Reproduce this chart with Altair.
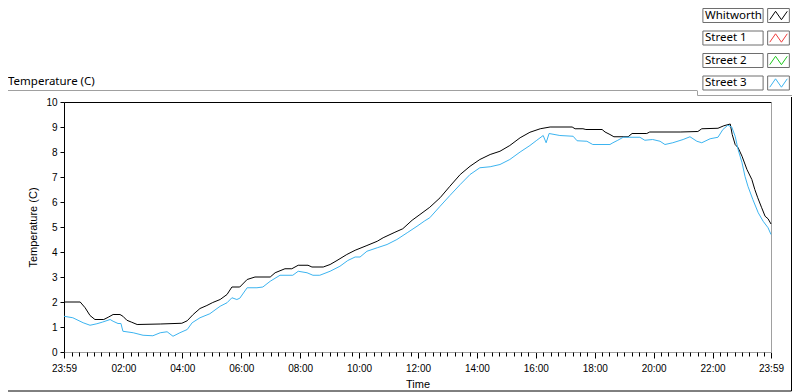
import json
import altair as alt
import pandas as pd

# ---------------- data ----------------
series_names = ["Whitworth", "Street 1", "Street 2", "Street 3"]
series_colors = ["#000000", "#f03c3c", "#1ec81e", "#3cb4f0"]
box_keys = ["box Whitworth", "box Street 1", "box Street 2", "box Street 3"]

# minutes after midnight (-1 = 23:59 of the previous day)
whitworth_min = [-1, 32, 42, 52, 62, 80, 89, 99, 113, 119, 127, 137, 148, 195, 239, 250, 262, 276, 290, 302,
                 317, 331, 341, 357, 372, 388, 419, 429, 449, 463, 476, 496, 504, 527, 541, 555, 575, 592, 616, 637,
                 649, 673, 689, 708, 724, 744, 765, 785, 806, 826, 846, 867, 887, 907, 928, 948, 969, 989, 1034, 1040,
                 1056, 1062, 1095, 1101, 1111, 1119, 1148, 1156, 1186, 1192, 1254, 1290, 1298, 1331, 1343, 1356, 1360, 1366, 1372, 1380,
                 1390, 1400, 1406, 1412, 1420, 1427, 1433, 1439]
whitworth_temp = [2.0, 2.0, 1.77, 1.46, 1.3, 1.3, 1.39, 1.5, 1.5, 1.43, 1.27, 1.19, 1.1, 1.12, 1.15, 1.25, 1.5, 1.74, 1.86, 1.98,
                  2.1, 2.3, 2.6, 2.6, 2.9, 3.0, 3.0, 3.17, 3.33, 3.33, 3.47, 3.47, 3.4, 3.4, 3.5, 3.66, 3.9, 4.07, 4.26, 4.43,
                  4.57, 4.79, 4.93, 5.27, 5.5, 5.79, 6.17, 6.63, 7.1, 7.43, 7.7, 7.9, 8.03, 8.26, 8.57, 8.79, 8.93, 9.0, 9.0, 8.93,
                  8.93, 8.9, 8.9, 8.8, 8.7, 8.61, 8.61, 8.74, 8.74, 8.8, 8.8, 8.82, 8.93, 8.95, 9.05, 9.12, 8.7, 8.3, 8.17, 7.83,
                  7.3, 6.9, 6.5, 6.17, 5.77, 5.43, 5.33, 5.12]

street3_min = [-1, 17, 38, 52, 66, 78, 93, 99, 109, 115, 119, 140, 160, 180, 195, 209, 221, 235, 250, 260,
               276, 296, 317, 331, 341, 351, 357, 372, 392, 404, 419, 439, 465, 476, 494, 506, 520, 541, 561, 577,
               592, 602, 616, 637, 657, 677, 698, 718, 734, 744, 765, 785, 806, 826, 846, 867, 887, 907, 928, 948,
               962, 975, 981, 987, 1009, 1036, 1044, 1064, 1076, 1111, 1117, 1127, 1138, 1172, 1182, 1198, 1213, 1223, 1239, 1260,
               1274, 1288, 1298, 1315, 1331, 1341, 1351, 1359, 1366, 1372, 1380, 1386, 1392, 1402, 1413, 1423, 1433, 1439]
street3_temp = [1.43, 1.37, 1.17, 1.07, 1.13, 1.2, 1.3, 1.23, 1.14, 1.14, 0.83, 0.77, 0.67, 0.65, 0.77, 0.81, 0.63, 0.77, 0.9, 1.17,
                1.37, 1.53, 1.83, 1.97, 2.17, 2.1, 2.15, 2.57, 2.57, 2.6, 2.83, 3.07, 3.07, 3.23, 3.17, 3.07, 3.07, 3.23, 3.43, 3.66,
                3.8, 3.8, 4.03, 4.17, 4.3, 4.5, 4.77, 5.03, 5.25, 5.37, 5.83, 6.26, 6.7, 7.1, 7.37, 7.41, 7.5, 7.7, 8.0, 8.26,
                8.47, 8.66, 8.37, 8.74, 8.66, 8.63, 8.45, 8.43, 8.3, 8.3, 8.37, 8.47, 8.59, 8.59, 8.47, 8.5, 8.43, 8.3, 8.37, 8.5,
                8.61, 8.43, 8.37, 8.53, 8.59, 8.9, 9.07, 9.0, 8.63, 8.1, 7.57, 7.03, 6.63, 6.1, 5.57, 5.23, 4.97, 4.7]

major_tick_values = [-1, 120, 240, 360, 480, 600, 720, 840, 960, 1080, 1200, 1320, 1439]
major_tick_labels = ["23:59", "02:00", "04:00", "06:00", "08:00", "10:00", "12:00",
                     "14:00", "16:00", "18:00", "20:00", "22:00", "23:59"]
minor_tick_values = [m for m in range(15, 1439, 15) if m % 120 != 0]
y_tick_values = [0, 1, 2, 3, 4, 5, 6, 7, 8, 9, 10]

graph_label = "Temperature (C)"
y_title = "Temperature (C)"
x_title = "Time"

# ---------------- table ----------------
df = pd.DataFrame({
    "minute": whitworth_min + street3_min,
    "temp": whitworth_temp + street3_temp,
    "series": ["Whitworth"] * len(whitworth_min) + ["Street 3"] * len(street3_min),
})
df["series_box"] = "box " + df["series"]

FONT = "Noto Sans"
W, H = 707, 250

xscale = alt.Scale(domain=[-1, 1439], nice=False, zero=False)
yscale = alt.Scale(domain=[0, 10], nice=False, zero=False)

label_expr = f"{json.dumps(major_tick_labels)}[indexof({json.dumps(major_tick_values)}, datum.value)]"

# legend symbols (unit = 7 px)
zig_path = ("M-1.25,0.6L-0.42,-0.6L0.42,0.6L1.25,-0.6"
            "M-1.55,-1h0M1.55,1h0")
box_path = ("M-1.55,-1H1.55V1H-1.55Z"
            "M-10.8,-1H-2.2V1H-10.8Z")

legend_color = alt.Legend(
    title=None, orient="none", legendX=707, legendY=-94,
    symbolType=zig_path, symbolSize=196, symbolStrokeWidth=1,
    symbolFillColor="transparent",
    labelAlign="left", labelOffset={"expr": "-81"}, labelFont=FONT, labelFontSize=11.5,
    labelColor="#000000", labelBaseline="middle", rowPadding=3.5, labelLimit=0,
)
legend_box = alt.Legend(
    title=None, orient="none", legendX=707, legendY=-94,
    symbolType=box_path, symbolSize=196, symbolStrokeWidth=1,
    symbolStrokeColor="#6e6e6e", symbolFillColor="transparent",
    labelExpr="''", labelFontSize=11.5, rowPadding=3.5,
)

lines = alt.Chart(df).mark_line(strokeWidth=1).encode(
    x=alt.X("minute:Q", scale=xscale, axis=alt.Axis(
        values=major_tick_values, labelExpr=label_expr, title=x_title,
        tickSize=6, tickColor="#000000", domainColor="#a0a0a0", grid=False,
        labelPadding=13, labelBaseline="alphabetic", labelFlush=False, labelOverlap=False,
        titleY=35, titleBaseline="alphabetic", titleFontWeight="normal",
    )),
    y=alt.Y("temp:Q", scale=yscale, axis=alt.Axis(
        values=y_tick_values, title=y_title, tickSize=4, tickColor="#000000",
        domainColor="#000000", grid=False, labelPadding=3,
        titleAngle=270, titleX=-28, titleY=H / 2, titleBaseline="alphabetic",
        titleAlign="center", titleFontWeight="normal",
    )),
    color=alt.Color("series:N", scale=alt.Scale(domain=series_names, range=series_colors),
                    legend=legend_color),
    opacity=alt.Opacity("series_box:O", scale=alt.Scale(domain=box_keys, range=[1, 1, 1, 1]),
                        legend=legend_box),
)

minor = alt.Chart(df).mark_point(opacity=0).encode(
    x=alt.X("minute:Q", scale=xscale, axis=alt.Axis(
        orient="bottom", values=minor_tick_values, labels=False, domain=False,
        tickSize=4, tickColor="#000000", title=None, grid=False)),
    y=alt.Y("temp:Q", scale=yscale, axis=alt.Axis(
        orient="right", ticks=False, labels=False, domainColor="#a0a0a0",
        title=None, grid=False)),
)

top = alt.Chart(df).mark_point(opacity=0).encode(
    x=alt.X("minute:Q", scale=xscale, axis=alt.Axis(
        orient="top", ticks=False, labels=False, domainColor="#000000",
        title=None, grid=False)),
    y=alt.Y("temp:Q", scale=yscale, axis=None),
)

one = alt.Data(values=[{"label": graph_label}])
graph_text = alt.Chart(one).mark_text(
    font=FONT, fontSize=11.5, align="left", baseline="alphabetic", color="#000000"
).encode(x=alt.value(-56), y=alt.value(-17), text="label:N")

blank = alt.Data(values=[{}])
frame_gray = alt.Chart(blank).mark_rule(color="#a0a0a0").encode(
    x=alt.value(-56), x2=alt.value(633), y=alt.value(-11.5))
frame_gray_v = alt.Chart(blank).mark_rule(color="#a0a0a0").encode(
    x=alt.value(633.5), y=alt.value(-11.5), y2=alt.value(-6.5))
frame_gray_h2 = alt.Chart(blank).mark_rule(color="#a0a0a0").encode(
    x=alt.value(633.5), x2=alt.value(728), y=alt.value(-6.5))
frame_right = alt.Chart(blank).mark_rule(color="#000000").encode(
    x=alt.value(727.5), y=alt.value(-5), y2=alt.value(289))
frame_bottom = alt.Chart(blank).mark_rule(color="#000000").encode(
    x=alt.value(-56), x2=alt.value(727.5), y=alt.value(289))

chart = alt.layer(
    lines, minor, top, graph_text, frame_gray, frame_gray_v, frame_gray_h2, frame_right, frame_bottom
).resolve_scale(
    x="independent", y="independent"
).properties(
    width=W, height=H,
    autosize=alt.AutoSizeParams(type="none"),
    padding={"left": 56, "top": 94, "right": 21, "bottom": 40},
).configure_view(stroke=None).configure_axis(
    labelFont=FONT, labelFontSize=11, labelColor="#000000",
    titleFont=FONT, titleFontSize=11.5, titleColor="#000000",
).configure(background="#ffffff")

chart.save("out.html", embed_options={"renderer": "svg", "actions": False})
